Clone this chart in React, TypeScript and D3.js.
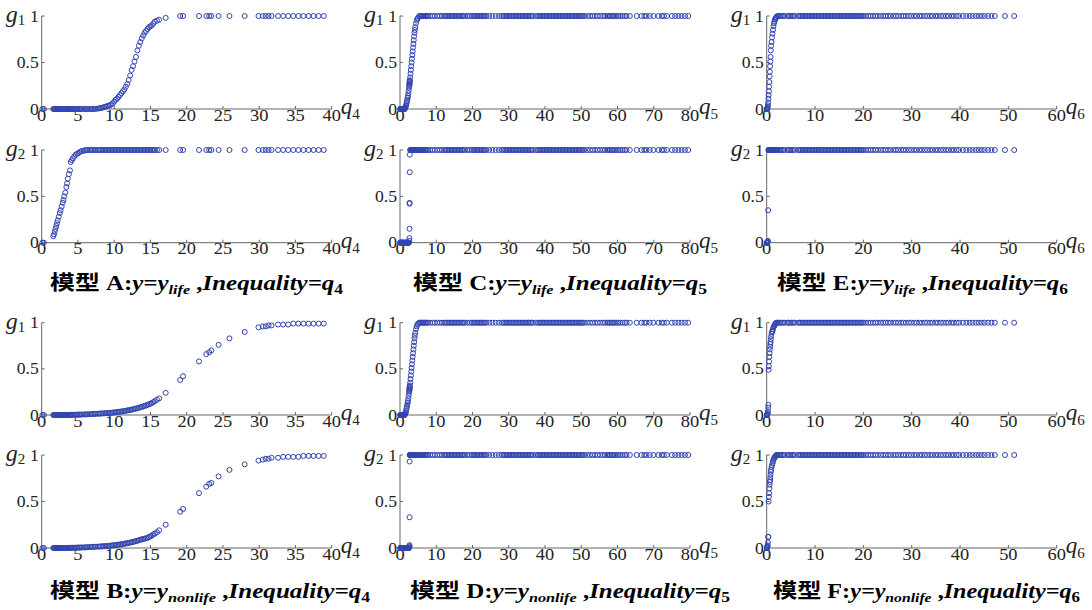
import * as d3 from "d3";

// ---------- q4 : models A, B ----------
const q4Obs = [
  0.1, 0.3,
  1.6, 1.7, 1.8, 1.9, 2.0, 2.1, 2.2, 2.35, 2.5, 2.6, 2.75, 2.9, 3.0,
  3.1, 3.25, 3.4, 3.5, 3.6, 3.75, 3.9, 4.0, 4.15, 4.3, 4.5, 4.7,
  4.9, 5.1, 5.3, 5.5, 5.8, 6.0, 6.2, 6.4, 6.7, 6.9, 7.1, 7.3, 7.5, 7.8, 8.0,
  8.2, 8.4, 8.6, 8.8, 9.0, 9.2, 9.4, 9.6, 9.8, 10.0,
  10.2, 10.4, 10.6, 10.8, 11.0, 11.2, 11.4, 11.6, 11.8, 12.0,
  12.2, 12.4, 12.6, 12.8, 13.0, 13.2, 13.4, 13.6, 13.8, 14.0,
  14.2, 14.4, 14.6, 14.8, 15.0, 15.2, 15.4, 15.6, 15.9, 16.2,
  17.1, 19.1, 19.5, 21.7, 22.7, 23.1, 23.4, 24.4, 25.9, 28.0, 29.9, 30.5, 30.9,
  31.3, 31.7, 32.6, 33.3, 34.0, 34.7, 35.4, 36.1, 36.8, 37.5, 38.2, 38.9,
];
const gA1 = [
  0, 0,
  0, 0, 0, 0, 0, 0, 0, 0, 0, 0, 0, 0, 0,
  0, 0, 0, 0, 0, 0, 0, 0, 0, 0, 0, 0,
  0, 0, 0, 0, 0, 0, 0, 0, 0, 0, 0, 0, 0.003, 0.005, 0.008,
  0.01, 0.015, 0.02, 0.025, 0.03, 0.035, 0.04, 0.05, 0.06, 0.08,
  0.1, 0.11, 0.13, 0.15, 0.17, 0.19, 0.21, 0.24, 0.27, 0.31,
  0.36, 0.42, 0.46, 0.51, 0.56, 0.63, 0.68, 0.72, 0.76, 0.79,
  0.82, 0.84, 0.86, 0.88, 0.89, 0.9, 0.92, 0.94, 0.95, 0.96,
  0.98, 1, 1, 1, 1, 1, 1, 1, 1, 1, 1, 1, 1,
  1, 1, 1, 1, 1, 1, 1, 1, 1, 1, 1, 1,
];
const gA2 = [
  0, 0,
  0.07, 0.09, 0.12, 0.15, 0.18, 0.21, 0.24, 0.28, 0.32, 0.35, 0.39, 0.43, 0.46,
  0.5, 0.54, 0.6, 0.64, 0.69, 0.74, 0.78, 0.87, 0.89, 0.91, 0.93, 0.95,
  0.96, 0.97, 0.98, 0.99, 0.99, 1, 1, 1, 1, 1, 1, 1, 1, 1, 1,
  1, 1, 1, 1, 1, 1, 1, 1, 1, 1,
  1, 1, 1, 1, 1, 1, 1, 1, 1, 1,
  1, 1, 1, 1, 1, 1, 1, 1, 1, 1,
  1, 1, 1, 1, 1, 1, 1, 1, 1, 1,
  1, 1, 1, 1, 1, 1, 1, 1, 1, 1, 1, 1, 1,
  1, 1, 1, 1, 1, 1, 1, 1, 1, 1, 1, 1,
];
const gB1 = [
  0, 0,
  0, 0, 0, 0, 0, 0, 0, 0, 0, 0, 0, 0, 0,
  0, 0, 0, 0, 0, 0.001, 0.001, 0.002, 0.002, 0.002, 0.003, 0.003,
  0.004, 0.004, 0.005, 0.005, 0.006, 0.007, 0.007, 0.008, 0.009, 0.01, 0.011, 0.012, 0.013, 0.014, 0.015,
  0.016, 0.017, 0.018, 0.019, 0.02, 0.021, 0.022, 0.024, 0.026, 0.028,
  0.03, 0.032, 0.034, 0.036, 0.038, 0.04, 0.043, 0.046, 0.049, 0.052,
  0.055, 0.058, 0.062, 0.066, 0.07, 0.074, 0.078, 0.083, 0.088, 0.093,
  0.098, 0.104, 0.11, 0.116, 0.122, 0.13, 0.14, 0.15, 0.165, 0.18,
  0.24, 0.38, 0.42, 0.58, 0.66, 0.68, 0.7, 0.76, 0.83, 0.9, 0.95, 0.96, 0.96,
  0.97, 0.97, 0.98, 0.98, 0.98, 0.99, 0.99, 0.99, 0.99, 0.99, 0.99, 0.99,
];
const gB2 = [
  0, 0,
  0, 0, 0, 0, 0, 0, 0, 0, 0, 0, 0, 0, 0,
  0, 0, 0, 0, 0.001, 0.001, 0.002, 0.002, 0.002, 0.003, 0.003, 0.004,
  0.004, 0.005, 0.005, 0.006, 0.006, 0.007, 0.008, 0.009, 0.01, 0.011, 0.012, 0.013, 0.014, 0.015, 0.016,
  0.017, 0.018, 0.019, 0.02, 0.021, 0.022, 0.024, 0.026, 0.028, 0.03,
  0.032, 0.034, 0.036, 0.038, 0.04, 0.043, 0.046, 0.049, 0.052, 0.055,
  0.058, 0.062, 0.066, 0.07, 0.074, 0.078, 0.083, 0.088, 0.093, 0.098,
  0.1, 0.105, 0.11, 0.118, 0.125, 0.135, 0.145, 0.155, 0.17, 0.19,
  0.25, 0.39, 0.42, 0.59, 0.66, 0.69, 0.7, 0.77, 0.84, 0.9, 0.94, 0.95, 0.96,
  0.96, 0.97, 0.97, 0.98, 0.98, 0.98, 0.98, 0.99, 0.99, 0.99, 0.99, 0.99,
];

// ---------- q5 : models C, D ----------
const q5Obs = [
  0.05, 0.1, 0.15, 0.2, 0.3, 0.35, 0.45, 0.5,
  0.6, 0.7, 0.8, 0.9, 1.0, 1.1, 1.2, 1.3,
  1.4, 1.5, 1.6, 1.7, 1.8, 1.9, 2.0, 2.1, 2.2, 2.3, 2.4, 2.5,
  2.58, 2.6, 2.62, 2.64, 2.66, 2.68, 2.7,
  2.8, 2.9, 3.0, 3.1, 3.2, 3.3, 3.4, 3.5, 3.6, 3.7,
  3.8, 3.9, 4.0, 4.1, 4.2, 4.4, 4.6, 4.8, 5.0,
  5.3, 5.6, 5.9, 6.2, 6.5, 6.8, 7.1, 7.4, 7.7, 8.3,
  9.0, 9.6, 10.3, 11.0, 11.6, 12.2, 12.6, 13.0, 13.4, 13.8,
  14.2, 14.6, 15.0, 15.4, 15.8, 16.2, 16.6, 17.0, 17.4, 17.8,
  18.5, 19.2, 19.8, 20.2, 20.6, 21.0, 21.4, 21.8, 22.2, 22.6,
  23.0, 23.4, 23.8, 24.6, 25.5, 26.4, 27.3, 28.1, 28.6, 29.0,
  29.4, 29.8, 30.2, 30.6, 31.0, 31.4, 31.8, 32.2, 32.6, 33.0,
  33.4, 33.8, 34.2, 34.6, 35.0, 35.4, 35.8, 36.2, 36.6, 37.4,
  38.0, 38.4, 38.8, 39.2, 39.6, 40.0, 40.4, 40.8, 41.2, 41.6,
  42.0, 42.4, 42.8, 43.2, 43.6, 44.0, 44.4, 44.8, 45.2, 45.6,
  46.0, 46.4, 46.8, 47.2, 47.6, 48.0, 48.4, 48.8, 49.2, 49.6,
  50.0, 50.4, 50.8, 51.6, 52.4, 53.1, 53.8, 54.5, 55.2, 56.0,
  56.6, 57.2, 57.6, 58.0, 58.4, 58.8, 59.3, 59.8, 60.3, 60.8,
  61.4, 62.0, 62.5, 63.4, 65.3, 66.6, 67.4, 68.0, 68.9, 69.9,
  71.3, 72.2, 72.8, 73.6, 75.0, 75.9, 76.8, 77.7, 78.6, 79.5,
];
const gC1 = [
  0, 0, 0, 0, 0, 0, 0, 0,
  0, 0, 0, 0, 0, 0, 0, 0,
  0.01, 0.02, 0.03, 0.04, 0.06, 0.08, 0.1, 0.12, 0.14, 0.17, 0.2, 0.23,
  0.25, 0.26, 0.27, 0.28, 0.29, 0.3, 0.31,
  0.34, 0.38, 0.42, 0.46, 0.5, 0.54, 0.58, 0.62, 0.66, 0.7,
  0.74, 0.78, 0.82, 0.85, 0.88, 0.92, 0.95, 0.97, 0.98,
  1, 1, 1, 1, 1, 1, 1, 1, 1, 1,
  1, 1, 1, 1, 1, 1, 1, 1, 1, 1,
  1, 1, 1, 1, 1, 1, 1, 1, 1, 1,
  1, 1, 1, 1, 1, 1, 1, 1, 1, 1,
  1, 1, 1, 1, 1, 1, 1, 1, 1, 1,
  1, 1, 1, 1, 1, 1, 1, 1, 1, 1,
  1, 1, 1, 1, 1, 1, 1, 1, 1, 1,
  1, 1, 1, 1, 1, 1, 1, 1, 1, 1,
  1, 1, 1, 1, 1, 1, 1, 1, 1, 1,
  1, 1, 1, 1, 1, 1, 1, 1, 1, 1,
  1, 1, 1, 1, 1, 1, 1, 1, 1, 1,
  1, 1, 1, 1, 1, 1, 1, 1, 1, 1,
  1, 1, 1, 1, 1, 1, 1, 1, 1, 1,
  1, 1, 1, 1, 1, 1, 1, 1, 1, 1,
];
const gC2 = [
  0, 0, 0, 0, 0, 0, 0, 0,
  0, 0, 0, 0, 0, 0, 0, 0,
  0, 0, 0, 0, 0, 0, 0, 0, 0, 0, 0, 0,
  0.02, 0.05, 0.15, 0.42, 0.43, 0.76, 0.95,
  1, 1, 1, 1, 1, 1, 1, 1, 1, 1,
  1, 1, 1, 1, 1, 1, 1, 1, 1,
  1, 1, 1, 1, 1, 1, 1, 1, 1, 1,
  1, 1, 1, 1, 1, 1, 1, 1, 1, 1,
  1, 1, 1, 1, 1, 1, 1, 1, 1, 1,
  1, 1, 1, 1, 1, 1, 1, 1, 1, 1,
  1, 1, 1, 1, 1, 1, 1, 1, 1, 1,
  1, 1, 1, 1, 1, 1, 1, 1, 1, 1,
  1, 1, 1, 1, 1, 1, 1, 1, 1, 1,
  1, 1, 1, 1, 1, 1, 1, 1, 1, 1,
  1, 1, 1, 1, 1, 1, 1, 1, 1, 1,
  1, 1, 1, 1, 1, 1, 1, 1, 1, 1,
  1, 1, 1, 1, 1, 1, 1, 1, 1, 1,
  1, 1, 1, 1, 1, 1, 1, 1, 1, 1,
  1, 1, 1, 1, 1, 1, 1, 1, 1, 1,
  1, 1, 1, 1, 1, 1, 1, 1, 1, 1,
];
const gD1 = [
  0, 0, 0, 0, 0, 0, 0, 0,
  0, 0, 0, 0, 0, 0, 0, 0,
  0.01, 0.02, 0.03, 0.05, 0.07, 0.09, 0.11, 0.13, 0.15, 0.18, 0.21, 0.24,
  0.26, 0.27, 0.28, 0.29, 0.3, 0.31, 0.32,
  0.35, 0.39, 0.43, 0.47, 0.51, 0.55, 0.59, 0.63, 0.67, 0.71,
  0.75, 0.79, 0.83, 0.86, 0.89, 0.93, 0.96, 0.98, 0.99,
  1, 1, 1, 1, 1, 1, 1, 1, 1, 1,
  1, 1, 1, 1, 1, 1, 1, 1, 1, 1,
  1, 1, 1, 1, 1, 1, 1, 1, 1, 1,
  1, 1, 1, 1, 1, 1, 1, 1, 1, 1,
  1, 1, 1, 1, 1, 1, 1, 1, 1, 1,
  1, 1, 1, 1, 1, 1, 1, 1, 1, 1,
  1, 1, 1, 1, 1, 1, 1, 1, 1, 1,
  1, 1, 1, 1, 1, 1, 1, 1, 1, 1,
  1, 1, 1, 1, 1, 1, 1, 1, 1, 1,
  1, 1, 1, 1, 1, 1, 1, 1, 1, 1,
  1, 1, 1, 1, 1, 1, 1, 1, 1, 1,
  1, 1, 1, 1, 1, 1, 1, 1, 1, 1,
  1, 1, 1, 1, 1, 1, 1, 1, 1, 1,
  1, 1, 1, 1, 1, 1, 1, 1, 1, 1,
];
const gD2 = [
  0, 0, 0, 0, 0, 0, 0, 0,
  0, 0, 0, 0, 0, 0, 0, 0,
  0, 0, 0, 0, 0, 0, 0, 0, 0, 0, 0, 0,
  0.01, 0.02, 0.03, 0.33, 0.93, 1, 1,
  1, 1, 1, 1, 1, 1, 1, 1, 1, 1,
  1, 1, 1, 1, 1, 1, 1, 1, 1,
  1, 1, 1, 1, 1, 1, 1, 1, 1, 1,
  1, 1, 1, 1, 1, 1, 1, 1, 1, 1,
  1, 1, 1, 1, 1, 1, 1, 1, 1, 1,
  1, 1, 1, 1, 1, 1, 1, 1, 1, 1,
  1, 1, 1, 1, 1, 1, 1, 1, 1, 1,
  1, 1, 1, 1, 1, 1, 1, 1, 1, 1,
  1, 1, 1, 1, 1, 1, 1, 1, 1, 1,
  1, 1, 1, 1, 1, 1, 1, 1, 1, 1,
  1, 1, 1, 1, 1, 1, 1, 1, 1, 1,
  1, 1, 1, 1, 1, 1, 1, 1, 1, 1,
  1, 1, 1, 1, 1, 1, 1, 1, 1, 1,
  1, 1, 1, 1, 1, 1, 1, 1, 1, 1,
  1, 1, 1, 1, 1, 1, 1, 1, 1, 1,
  1, 1, 1, 1, 1, 1, 1, 1, 1, 1,
];

// ---------- q6 : models E, F ----------
const q6Obs = [
  0.02, 0.04, 0.06, 0.1, 0.15, 0.2,
  0.25, 0.3, 0.35, 0.4, 0.45, 0.5, 0.55, 0.6, 0.65, 0.7, 0.75, 0.8, 0.85,
  0.9, 1.0, 1.1, 1.2, 1.3, 1.4, 1.5, 1.6, 1.7, 1.8, 1.9, 2.0,
  2.2, 2.5, 2.8, 3.1, 3.4, 3.7, 4.3, 4.6, 4.9, 5.2,
  5.5, 5.8, 6.5, 6.8, 7.1, 7.4, 7.7, 8.0, 8.3, 8.6,
  8.9, 9.2, 9.5, 9.8, 10.1, 10.4, 10.7, 11.0, 11.3, 11.6,
  11.9, 12.2, 12.5, 12.8, 13.1, 13.4, 13.7, 14.0, 14.3, 14.6,
  14.9, 15.2, 15.5, 15.8, 16.1, 16.4, 16.7, 17.0, 17.3, 17.6,
  17.9, 18.2, 18.5, 18.8, 19.1, 19.4, 19.7, 20.0, 20.5, 21.0,
  21.5, 22.0, 22.5, 23.0, 23.6, 24.1, 24.6, 25.1, 25.6, 26.2,
  26.7, 27.2, 27.8, 28.3, 28.8, 29.4, 29.9, 30.5, 31.0, 31.6,
  32.1, 32.7, 33.2, 33.8, 34.3, 34.9, 35.4, 36.0, 36.5, 37.1,
  37.6, 38.2, 38.7, 39.3, 39.8, 40.6, 41.3, 42.0, 42.6, 43.3,
  43.9, 44.5, 45.1, 45.8, 46.5, 47.2, 49.3, 51.2,
];
const gE1 = [
  0, 0, 0, 0, 0.01, 0.02,
  0.04, 0.07, 0.11, 0.15, 0.19, 0.24, 0.29, 0.35, 0.4, 0.46, 0.51, 0.56, 0.63,
  0.68, 0.72, 0.77, 0.81, 0.85, 0.89, 0.92, 0.94, 0.96, 0.97, 0.98, 0.99,
  1, 1, 1, 1, 1, 1, 1, 1, 1, 1,
  1, 1, 1, 1, 1, 1, 1, 1, 1, 1,
  1, 1, 1, 1, 1, 1, 1, 1, 1, 1,
  1, 1, 1, 1, 1, 1, 1, 1, 1, 1,
  1, 1, 1, 1, 1, 1, 1, 1, 1, 1,
  1, 1, 1, 1, 1, 1, 1, 1, 1, 1,
  1, 1, 1, 1, 1, 1, 1, 1, 1, 1,
  1, 1, 1, 1, 1, 1, 1, 1, 1, 1,
  1, 1, 1, 1, 1, 1, 1, 1, 1, 1,
  1, 1, 1, 1, 1, 1, 1, 1, 1, 1,
  1, 1, 1, 1, 1, 1, 1, 1,
];
const gE2 = [
  0, 0, 0, 0, 0, 0.01,
  0.02, 0.35, 1, 1, 1, 1, 1, 1, 1, 1, 1, 1, 1,
  1, 1, 1, 1, 1, 1, 1, 1, 1, 1, 1, 1,
  1, 1, 1, 1, 1, 1, 1, 1, 1, 1,
  1, 1, 1, 1, 1, 1, 1, 1, 1, 1,
  1, 1, 1, 1, 1, 1, 1, 1, 1, 1,
  1, 1, 1, 1, 1, 1, 1, 1, 1, 1,
  1, 1, 1, 1, 1, 1, 1, 1, 1, 1,
  1, 1, 1, 1, 1, 1, 1, 1, 1, 1,
  1, 1, 1, 1, 1, 1, 1, 1, 1, 1,
  1, 1, 1, 1, 1, 1, 1, 1, 1, 1,
  1, 1, 1, 1, 1, 1, 1, 1, 1, 1,
  1, 1, 1, 1, 1, 1, 1, 1, 1, 1,
  1, 1, 1, 1, 1, 1, 1, 1,
];
const gF1 = [
  0, 0, 0, 0, 0.01, 0.02,
  0.04, 0.08, 0.11, 0.49, 0.53, 0.58, 0.63, 0.67, 0.71, 0.74, 0.77, 0.79, 0.82,
  0.85, 0.88, 0.9, 0.91, 0.93, 0.95, 0.96, 0.97, 0.98, 0.99, 0.99, 1,
  1, 1, 1, 1, 1, 1, 1, 1, 1, 1,
  1, 1, 1, 1, 1, 1, 1, 1, 1, 1,
  1, 1, 1, 1, 1, 1, 1, 1, 1, 1,
  1, 1, 1, 1, 1, 1, 1, 1, 1, 1,
  1, 1, 1, 1, 1, 1, 1, 1, 1, 1,
  1, 1, 1, 1, 1, 1, 1, 1, 1, 1,
  1, 1, 1, 1, 1, 1, 1, 1, 1, 1,
  1, 1, 1, 1, 1, 1, 1, 1, 1, 1,
  1, 1, 1, 1, 1, 1, 1, 1, 1, 1,
  1, 1, 1, 1, 1, 1, 1, 1, 1, 1,
  1, 1, 1, 1, 1, 1, 1, 1,
];
const gF2 = [
  0, 0, 0, 0.01, 0.02, 0.03,
  0.06, 0.12, 0.12, 0.5, 0.55, 0.59, 0.64, 0.68, 0.71, 0.73, 0.76, 0.79, 0.82,
  0.84, 0.87, 0.89, 0.91, 0.93, 0.95, 0.96, 0.97, 0.98, 0.99, 0.99, 1,
  1, 1, 1, 1, 1, 1, 1, 1, 1, 1,
  1, 1, 1, 1, 1, 1, 1, 1, 1, 1,
  1, 1, 1, 1, 1, 1, 1, 1, 1, 1,
  1, 1, 1, 1, 1, 1, 1, 1, 1, 1,
  1, 1, 1, 1, 1, 1, 1, 1, 1, 1,
  1, 1, 1, 1, 1, 1, 1, 1, 1, 1,
  1, 1, 1, 1, 1, 1, 1, 1, 1, 1,
  1, 1, 1, 1, 1, 1, 1, 1, 1, 1,
  1, 1, 1, 1, 1, 1, 1, 1, 1, 1,
  1, 1, 1, 1, 1, 1, 1, 1, 1, 1,
  1, 1, 1, 1, 1, 1, 1, 1,
];

const q4Ticks = [0, 5, 10, 15, 20, 25, 30, 35, 40];
const q5Ticks = [0, 10, 20, 30, 40, 50, 60, 70, 80];
const q6Ticks = [0, 10, 20, 30, 40, 50, 60];
const gTicks = [0, 0.5, 1];

const models = [
  { name: "A", yName: "life", q: "4", xs: q4Obs, g1: gA1, g2: gA2, xMax: 40, ticks: q4Ticks },
  { name: "C", yName: "life", q: "5", xs: q5Obs, g1: gC1, g2: gC2, xMax: 80, ticks: q5Ticks },
  { name: "E", yName: "life", q: "6", xs: q6Obs, g1: gE1, g2: gE2, xMax: 60, ticks: q6Ticks },
  { name: "B", yName: "nonlife", q: "4", xs: q4Obs, g1: gB1, g2: gB2, xMax: 40, ticks: q4Ticks },
  { name: "D", yName: "nonlife", q: "5", xs: q5Obs, g1: gD1, g2: gD2, xMax: 80, ticks: q5Ticks },
  { name: "F", yName: "nonlife", q: "6", xs: q6Obs, g1: gF1, g2: gF2, xMax: 60, ticks: q6Ticks },
];

// layout
const colLeft = [41.7, 400, 766.7];
const plotW = 290;
const rowLayout = [
  { g1: [16, 109], g2: [150, 242.7], titleY: 290 },
  { g1: [322.7, 415], g2: [455, 548], titleY: 598 },
];
const titleBox = [[50, 293], [413, 294], [777, 291], [50, 320], [410, 320], [773, 307]];

const MARK = "#3144b0";
const AXIS = "#666";
const TXT = "#222";
const SERIF = "'Liberation Serif', 'Times New Roman', serif";
const CJK = "'Noto Sans CJK SC', sans-serif";

function SubPlot({ left, top, base, xMax, ticks, xs, gs, gNum, qNum }) {
  const x = d3.scaleLinear().domain([0, xMax]).range([left, left + plotW]);
  const y = d3.scaleLinear().domain([0, 1]).range([base, top]);
  return (
    <g>
      <line x1={left} x2={left + plotW} y1={base} y2={base} stroke={AXIS} strokeWidth={1} />
      <line x1={left} x2={left} y1={base} y2={top} stroke={AXIS} strokeWidth={1} />
      {ticks.map((t) => (
        <g key={"x" + t}>
          <line x1={x(t)} x2={x(t)} y1={base} y2={base - 3} stroke={AXIS} />
          <text
            transform={`translate(${x(t)},${base + 11.5}) scale(1.15,1)`}
            textAnchor="middle"
            fontFamily={SERIF}
            fontSize={16}
            fill={TXT}
          >
            {t}
          </text>
        </g>
      ))}
      {gTicks.map((t) => (
        <g key={"y" + t}>
          <line x1={left} x2={left + 3} y1={y(t)} y2={y(t)} stroke={AXIS} />
          <text
            transform={`translate(${left - 3},${y(t) + 5.5}) scale(1.1,1)`}
            textAnchor="end"
            fontFamily={SERIF}
            fontSize={16}
            fill={TXT}
          >
            {t}
          </text>
        </g>
      ))}
      {xs.map((q, i) => (
        <circle key={i} cx={x(q)} cy={y(gs[i])} r={2.5} fill="none" stroke={MARK} strokeWidth={1} />
      ))}
      <text x={left - 36} y={top + 6} fontFamily={SERIF} fontStyle="italic" fontSize={24} fill={TXT}>
        g<tspan fontStyle="normal" fontSize={15} dy={3}>{gNum}</tspan>
      </text>
      <text x={x(xMax) + 9} y={base + 5} fontFamily={SERIF} fontStyle="italic" fontSize={23} fill={TXT}>
        q<tspan fontStyle="normal" fontSize={15} dy={5}>{qNum}</tspan>
      </text>
    </g>
  );
}

function Title({ m, x, w, yb }) {
  return (
    <text
      x={x}
      y={yb}
      textLength={w}
      lengthAdjust="spacingAndGlyphs"
      fontSize={20}
      fontWeight="bold"
      fill="#000"
      fontFamily={SERIF}
    >
      <tspan fontFamily={CJK}>模型</tspan>
      <tspan> {m.name}</tspan>
      <tspan>:</tspan>
      <tspan fontStyle="italic">y=y</tspan>
      <tspan fontStyle="italic" fontSize={13} dy={4}>{m.yName}</tspan>
      <tspan dy={-4}> ,</tspan>
      <tspan fontStyle="italic">Inequality=q</tspan>
      <tspan fontSize={14} dy={4}>{m.q}</tspan>
    </text>
  );
}

export default function App() {
  return (
    <svg
      width={1092}
      height={610}
      style={{ position: "absolute", left: 0, top: 0, background: "#fff" }}
    >
      {models.map((m, i) => {
        const row = rowLayout[Math.floor(i / 3)];
        const left = colLeft[i % 3];
        const [tx, tw] = titleBox[i];
        return (
          <g key={m.name}>
            <SubPlot left={left} top={row.g1[0]} base={row.g1[1]} xMax={m.xMax} ticks={m.ticks} xs={m.xs} gs={m.g1} gNum="1" qNum={m.q} />
            <SubPlot left={left} top={row.g2[0]} base={row.g2[1]} xMax={m.xMax} ticks={m.ticks} xs={m.xs} gs={m.g2} gNum="2" qNum={m.q} />
            <Title m={m} x={tx} w={tw} yb={row.titleY} />
          </g>
        );
      })}
    </svg>
  );
}
